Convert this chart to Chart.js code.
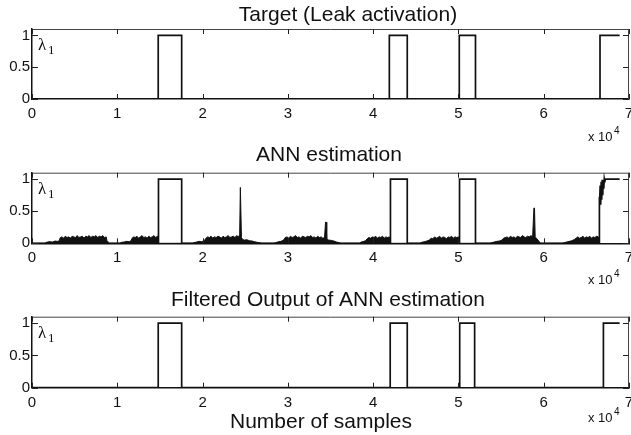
<!DOCTYPE html>
<html>
<head>
<meta charset="utf-8">
<script src="https://cdn.jsdelivr.net/npm/chart.js@4.4.0/dist/chart.umd.min.js"></script>
<style>
  html, body { margin: 0; padding: 0; background: #fff; }
  #wrap { position: relative; width: 631px; height: 435px; overflow: hidden; }
  canvas { position: absolute; left: 0; }
</style>
</head>
<body>
<div id="wrap">
  <canvas id="c1" style="top:0px" width="631" height="143"></canvas>
  <canvas id="c2" style="top:143px" width="631" height="143"></canvas>
  <canvas id="c3" style="top:286px" width="631" height="149"></canvas>
</div>
<script>
// axis ticks (x in samples, shown as x 10^4)
var xTicks = [0, 10000, 20000, 30000, 40000, 50000, 60000, 70000];
var yTicks = [0, 0.5, 1];

// target leak activation
var targetX = [0, 14800, 14800, 17550, 17550, 41900, 41900, 44000, 44000, 50100, 50100, 52000, 52000, 66600, 66600, 68900];
var targetY = [0, 0, 1, 1, 0, 0, 1, 1, 0, 0, 1, 1, 0, 0, 1, 1];

// ANN estimation, main trace (pulses)
var annX = [0, 14800, 14800, 14830, 14860, 17550, 17550, 42000, 42000, 42030, 42060, 44000, 44000, 50100, 50100, 50130, 50160, 52000, 52000,
            66500, 66500, 66560, 66620, 66680, 66740, 66800, 66860, 66920, 66980, 67040, 67100, 67160, 67220, 67300, 68900];
var annY = [0, 0, 0.97, 0.94, 1, 1, 0, 0, 0.98, 0.95, 1, 1, 0, 0, 0.97, 0.93, 1, 1, 0,
            0, 0.72, 0.55, 0.9, 0.6, 0.96, 0.68, 0.99, 0.75, 0.97, 0.85, 1, 0.95, 1, 1, 1];

// ANN estimation, noise band upper envelope
var annBandX = [0, 1500, 1700, 2000, 2400, 2700, 3000, 3200, 3300, 3500, 3700, 3900, 4100, 4300, 4500, 4700, 4900, 5100, 5300, 5500, 5700, 5900, 6100, 6300, 6500, 6700, 6900, 7100, 7300, 7500, 7700, 7900, 8100, 8300, 8500, 8700, 8800, 8900,
  10300, 10500, 10800, 11100, 11400, 11600, 11750, 11900, 12100, 12300, 12500, 12700, 12900, 13100, 13300, 13500, 13700, 13900, 14100, 14300, 14500, 14700, 14790, 14800,
  18800, 19000, 19300, 19600, 19900, 20200, 20400, 20600, 20800, 21000, 21200, 21400, 21600, 21800, 22000, 22200, 22400, 22600, 22800, 23000, 23200, 23400, 23600, 23800, 24000, 24200, 24350, 24430, 24480, 24560, 24700, 24900, 25200, 25500, 25800, 26100, 26400, 26700, 27000,
  28300, 28600, 28900, 29200, 29500, 29700, 29900, 30100, 30300, 30500, 30700, 30900, 31100, 31300, 31500, 31700, 31900, 32100, 32300, 32500, 32700, 32900, 33100, 33300, 33500, 33700, 33900, 34100, 34300, 34420, 34480, 34560, 34800, 35100, 35400, 35700, 36000, 36200,
  38400, 38600, 38900, 39100, 39300, 39500, 39700, 39900, 40100, 40300, 40500, 40700, 40900, 41100, 41300, 41500, 41700, 41900, 42000,
  45500, 45700, 46000, 46300, 46600, 46800, 47000, 47200, 47400, 47600, 47800, 48000, 48200, 48400, 48600, 48800, 49000, 49200, 49400, 49600, 49800, 50000, 50100,
  53700, 53900, 54200, 54500, 54800, 55100, 55300, 55500, 55700, 55900, 56100, 56300, 56500, 56700, 56900, 57100, 57300, 57500, 57700, 57900, 58100, 58300, 58500, 58700, 58850, 58920, 59000, 59200, 59400, 59600,
  62200, 62400, 62700, 63000, 63300, 63600, 63800, 64000, 64200, 64400, 64600, 64800, 65000, 65200, 65400, 65600, 65800, 66000, 66200, 66400, 66500];
var annBandY = [0, 0, 0.015, 0.025, 0.02, 0.035, 0.03, 0.04, 0.085, 0.1, 0.08, 0.11, 0.09, 0.1, 0.08, 0.11, 0.1, 0.09, 0.12, 0.09, 0.1, 0.11, 0.08, 0.11, 0.1, 0.12, 0.09, 0.11, 0.1, 0.12, 0.09, 0.11, 0.1, 0.12, 0.09, 0.1, 0.03, 0,
  0, 0.015, 0.02, 0.03, 0.025, 0.04, 0.08, 0.1, 0.09, 0.11, 0.08, 0.1, 0.12, 0.09, 0.1, 0.08, 0.11, 0.09, 0.1, 0.12, 0.09, 0.11, 0.1, 0,
  0, 0.01, 0.02, 0.03, 0.025, 0.04, 0.08, 0.1, 0.09, 0.11, 0.08, 0.1, 0.09, 0.11, 0.1, 0.08, 0.11, 0.09, 0.1, 0.12, 0.09, 0.1, 0.11, 0.09, 0.12, 0.1, 0.13, 0.87, 0.87, 0.09, 0.06, 0.05, 0.055, 0.04, 0.035, 0.025, 0.015, 0.008, 0,
  0, 0.01, 0.025, 0.03, 0.05, 0.09, 0.1, 0.08, 0.11, 0.09, 0.1, 0.12, 0.09, 0.1, 0.08, 0.11, 0.1, 0.09, 0.11, 0.1, 0.12, 0.09, 0.1, 0.08, 0.11, 0.09, 0.1, 0.08, 0.09, 0.33, 0.33, 0.06, 0.05, 0.045, 0.035, 0.02, 0.01, 0,
  0, 0.02, 0.03, 0.04, 0.07, 0.09, 0.08, 0.1, 0.09, 0.11, 0.08, 0.1, 0.09, 0.11, 0.08, 0.1, 0.09, 0.1, 0,
  0, 0.015, 0.025, 0.035, 0.05, 0.08, 0.07, 0.1, 0.08, 0.09, 0.11, 0.08, 0.1, 0.09, 0.07, 0.1, 0.09, 0.11, 0.08, 0.1, 0.09, 0.1, 0,
  0, 0.01, 0.02, 0.03, 0.035, 0.05, 0.08, 0.09, 0.1, 0.08, 0.11, 0.09, 0.1, 0.08, 0.11, 0.1, 0.09, 0.12, 0.1, 0.09, 0.11, 0.1, 0.12, 0.1, 0.55, 0.55, 0.1, 0.07, 0.04, 0,
  0, 0.01, 0.02, 0.03, 0.04, 0.06, 0.08, 0.1, 0.08, 0.09, 0.11, 0.08, 0.1, 0.09, 0.11, 0.08, 0.1, 0.09, 0.11, 0.1, 0];

// filtered output of ANN estimation
var filtX = [0, 14800, 14800, 17550, 17550, 42000, 42000, 44000, 44000, 50150, 50150, 51900, 51900, 67000, 67000, 68900];
var filtY = [0, 0, 1, 1, 0, 0, 1, 1, 0, 0, 1, 1, 0, 0, 1, 1];

function pts(xs, ys) {
  return xs.map(function(x, i) { return { x: x, y: ys[i] }; });
}

Chart.defaults.font.family = '"Liberation Sans", Arial, sans-serif';
Chart.defaults.color = '#111';

var panelDeco = {
  id: 'panelDeco',
  afterDraw: function(chart) {
    var o = chart.options.plugins.panelDeco;
    var ctx = chart.ctx, a = chart.chartArea;
    var xs = chart.scales.x, ys = chart.scales.y;
    ctx.save();
    // top and right box edges
    ctx.strokeStyle = '#444';
    ctx.lineWidth = 1;
    ctx.beginPath();
    ctx.moveTo(a.left, a.top + 0.5); ctx.lineTo(a.right, a.top + 0.5);
    ctx.moveTo(a.right - 0.5, a.top); ctx.lineTo(a.right - 0.5, a.bottom);
    ctx.stroke();
    // inner tick marks
    ctx.strokeStyle = '#222';
    ctx.beginPath();
    xTicks.forEach(function(v) {
      var px = Math.round(xs.getPixelForValue(v)) + 0.5;
      ctx.moveTo(px, a.bottom); ctx.lineTo(px, a.bottom - 5);
      ctx.moveTo(px, a.top); ctx.lineTo(px, a.top + 5);
    });
    yTicks.forEach(function(v) {
      var py = Math.round(ys.getPixelForValue(v)) + 0.5;
      ctx.moveTo(a.left, py); ctx.lineTo(a.left + 6, py);
      ctx.moveTo(a.right, py); ctx.lineTo(a.right - 6, py);
    });
    ctx.stroke();
    ctx.fillStyle = '#111';
    // title
    ctx.font = '21px "Liberation Sans", Arial, sans-serif';
    ctx.textAlign = 'center';
    ctx.textBaseline = 'alphabetic';
    ctx.fillText(o.title, o.titleX, o.titleY);
    if (o.xlabel) ctx.fillText(o.xlabel, o.xlabelX, o.xlabelY);
    // lambda_1 label
    ctx.textAlign = 'left';
    ctx.font = '17px "Liberation Serif", "DejaVu Serif", serif';
    ctx.fillText('\u03bb', a.left + 6, a.top + 21);
    ctx.font = '13px "Liberation Serif", "DejaVu Serif", serif';
    ctx.fillText('1', a.left + 16, a.top + 25);
    // x 10^4 multiplier
    ctx.font = '13px "Liberation Sans", Arial, sans-serif';
    ctx.fillText('x 10', o.expX, o.expY);
    ctx.font = '10px "Liberation Sans", Arial, sans-serif';
    ctx.fillText('4', o.expX + 26, o.expY - 7);
    ctx.restore();
  }
};

function makePanel(id, datasets, deco, padTop, xHeight) {
  return new Chart(document.getElementById(id), {
    type: 'scatter',
    data: { datasets: datasets },
    options: {
      responsive: false,
      animation: false,
      layout: { autoPadding: false, padding: { top: padTop, right: 2, left: 0, bottom: 0 } },
      elements: { point: { radius: 0 }, line: { tension: 0 } },
      plugins: { legend: { display: false }, tooltip: { enabled: false }, panelDeco: deco },
      scales: {
        x: {
          type: 'linear', min: 0, max: 70000,
          afterBuildTicks: function(s) { s.ticks = xTicks.map(function(v) { return { value: v }; }); },
          afterFit: function(s) { s.height = xHeight; s.paddingLeft = 0; s.paddingRight = 0; },
          grid: { display: false, drawTicks: false },
          border: { display: true, color: '#111', width: 1.5 },
          ticks: { padding: 6, autoSkip: false, maxRotation: 0, font: { size: 15 },
                   callback: function(v) { return String(v / 10000); } }
        },
        y: {
          type: 'linear', min: 0, max: 1.1,
          afterBuildTicks: function(s) { s.ticks = yTicks.map(function(v) { return { value: v }; }); },
          afterFit: function(s) { s.width = 32; s.paddingTop = 0; s.paddingBottom = 0; },
          grid: { display: false, drawTicks: false },
          border: { display: true, color: '#111', width: 1.5 },
          ticks: { padding: 2, font: { size: 15 }, callback: function(v) { return String(v); } }
        }
      }
    },
    plugins: [panelDeco]
  });
}

function lineSet(data, w) {
  return { data: data, showLine: true, borderColor: '#111', borderWidth: w, fill: false, pointRadius: 0 };
}

makePanel('c1', [lineSet(pts(targetX, targetY), 1.7)],
  { title: 'Target (Leak activation)', titleX: 348, titleY: 21, expX: 588, expY: 141 }, 29, 44);

makePanel('c2', [
    { data: pts(annBandX, annBandY), showLine: true, borderColor: '#111', borderWidth: 1,
      backgroundColor: '#111', fill: 'origin', pointRadius: 0 },
    lineSet(pts(annX, annY), 1.7)
  ],
  { title: 'ANN estimation', titleX: 329, titleY: 18, expX: 588, expY: 141 }, 29.7, 42.7);

makePanel('c3', [lineSet(pts(filtX, filtY), 1.7)],
  { title: 'Filtered Output of ANN estimation', titleX: 328, titleY: 20,
    xlabel: 'Number of samples', xlabelX: 321, xlabelY: 142, expX: 588, expY: 135.5 }, 30.7, 47.3);
</script>
</body>
</html>
